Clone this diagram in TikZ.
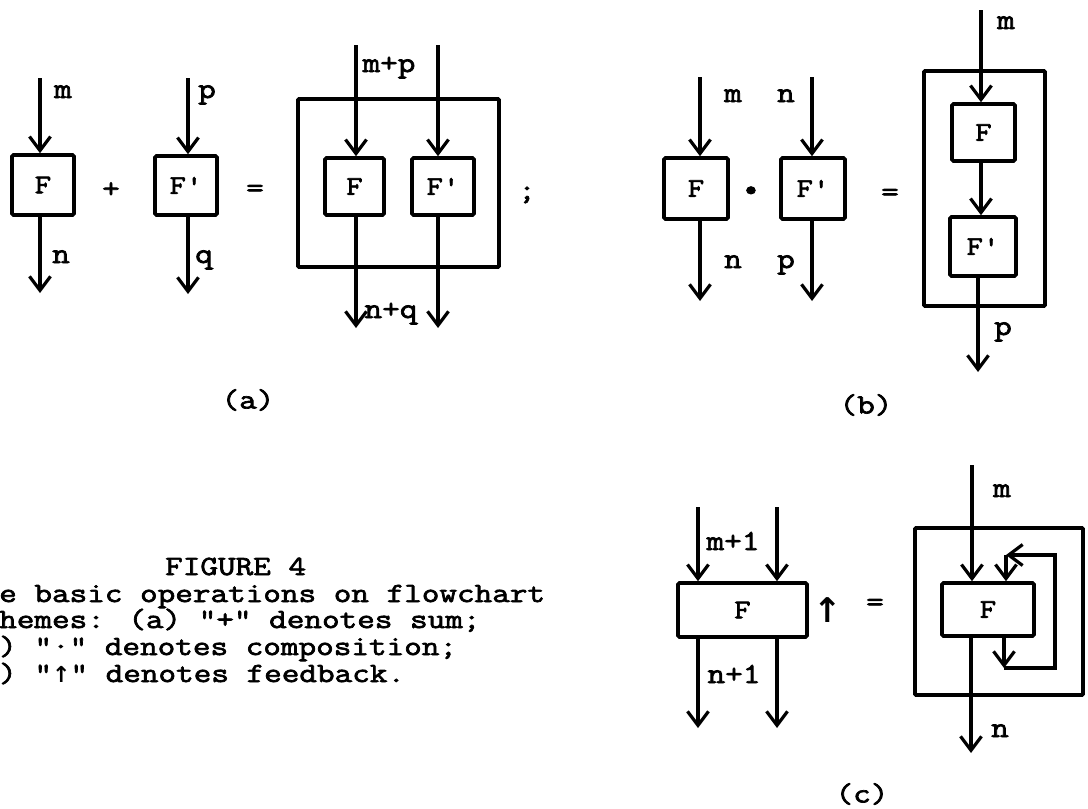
\documentclass[tikz,border=0pt]{standalone}
\usepackage{fontspec}
\newfontfamily\tw{Latin Modern Mono}[FakeBold=2.5, FakeStretch=1.18]
\newfontfamily\twc{Latin Modern Mono}[FakeBold=2.5, FakeStretch=1.23]
\newfontfamily\sym{DejaVu Sans}
\usetikzlibrary{arrows.meta}
\begin{document}
\begin{tikzpicture}[x=1pt,y=-1pt,
  ln/.style={line width=3.2pt},
  arr/.style={ln, -{Straight Barb[length=14pt,width=21pt,line width=3.2pt]}},
  fbox/.style={draw, line width=3.6pt, rounded corners=1.5pt, inner sep=0pt, font=\tw\fontsize{27}{30}\selectfont},
  bigframe/.style={draw, line width=3.6pt, rounded corners=1pt, inner sep=0pt},
  lbl/.style={font=\tw\fontsize{29}{32}\selectfont, inner sep=0pt, anchor=base},
  op/.style={font=\tw\fontsize{29}{32}\selectfont, inner sep=0pt},
  captxt/.style={font=\twc\fontsize{27.8}{30}\selectfont, inner sep=0pt, anchor=base west},
  sublbl/.style={font=\twc\fontsize{27.8}{30}\selectfont, inner sep=0pt},
]
\useasboundingbox (0,0) rectangle (1088,809);

% ---------- (a) ----------
\node[fbox, minimum width=62pt, minimum height=60pt] (aF) at (43,185) {F};
\node[fbox, minimum width=62pt, minimum height=59pt] (aFp) at (186,185.5) {F'};
\node[bigframe, minimum width=201pt, minimum height=168pt] (aBig) at (398.5,183) {};
\node[fbox, minimum width=59pt, minimum height=57pt] (aF2) at (354.5,186.5) {F};
\node[fbox, minimum width=62pt, minimum height=57pt] (aFp2) at (443,186.5) {F'};

\coordinate (aIn1) at (40,78);
\coordinate (aOut1) at (40,293);
\coordinate (aIn2) at (188,78);
\coordinate (aOut2) at (188,294);
\coordinate (aIn3) at (356,45);
\coordinate (aOut3) at (356,328);
\coordinate (aIn4) at (438,45);
\coordinate (aOut4) at (438,328);

\draw[arr] (aIn1) -- (aF.north -| aIn1);
\draw[arr] (aF.south -| aOut1) -- (aOut1);
\draw[arr] (aIn2) -- (aFp.north -| aIn2);
\draw[arr] (aFp.south -| aOut2) -- (aOut2);
\draw[arr] (aIn3) -- (aF2.north -| aIn3);
\draw[arr] (aF2.south -| aOut3) -- (aOut3);
\draw[arr] (aIn4) -- (aFp2.north -| aIn4);
\draw[arr] (aFp2.south -| aOut4) -- (aOut4);

\node[lbl] (am) at (63,98) {m};
\node[lbl] (an) at (61,263) {n};
\node[lbl] (ap) at (207,98) {p};
\node[lbl] (aq) at (204,263) {q};
\node[lbl] (amp) at (389,72) {m+p};
\node[lbl] (anq) at (391,318) {n+q};
\node[op] (aplus) at (111,190) {+};
\node[op] (aeq) at (255,191) {=};
\node[op] (asemi) at (527,195) {;};
\node[sublbl] (alab) at (248,400) {(a)};

% ---------- (b) ----------
\node[fbox, minimum width=64pt, minimum height=61pt] (bF) at (696,188.5) {F};
\node[fbox, minimum width=64pt, minimum height=61pt] (bFp) at (813,188.5) {F'};
\node[bigframe, minimum width=121pt, minimum height=235pt] (bBig) at (984.5,188.5) {};
\node[fbox, minimum width=63pt, minimum height=57pt] (bF2) at (983.5,132.5) {F};
\node[fbox, minimum width=66pt, minimum height=59pt] (bFp2) at (983,246.5) {F'};

\coordinate (bIn1) at (700,77);
\coordinate (bOut1) at (700,301);
\coordinate (bIn2) at (812,77);
\coordinate (bOut2) at (812,301);
\coordinate (bIn3) at (981,10);
\coordinate (bOut3) at (978,372);

\draw[arr] (bIn1) -- (bF.north -| bIn1);
\draw[arr] (bF.south -| bOut1) -- (bOut1);
\draw[arr] (bIn2) -- (bFp.north -| bIn2);
\draw[arr] (bFp.south -| bOut2) -- (bOut2);
\draw[arr] (bIn3) -- (bF2.north -| bIn3);
\draw[arr] (bF2.south -| bIn3) -- (bFp2.north -| bIn3);
\draw[arr] (bFp2.south -| bOut3) -- (bOut3);

\node[lbl] (bm) at (733,102) {m};
\node[lbl] (bn) at (786,102) {n};
\node[lbl] (bn2) at (733,268) {n};
\node[lbl] (bp) at (786,268) {p};
\node[lbl] (bm2) at (1006,29) {m};
\node[lbl] (bp2) at (1003,335) {p};
\node[op] (bdot) at (751,192) {\textbullet};
\node[op] (beq) at (890,195) {=};
\node[sublbl] (blab) at (866,405) {(b)};

% ---------- (c) ----------
\node[fbox, minimum width=129pt, minimum height=54pt] (cF) at (742.5,610) {F};
\node[bigframe, minimum width=168pt, minimum height=167pt] (cBig) at (999,611.5) {};
\node[fbox, minimum width=92pt, minimum height=53pt] (cF2) at (988,609.5) {F};

\coordinate (cIn1) at (698,507);
\coordinate (cOut1) at (698,728);
\coordinate (cIn2) at (777,507);
\coordinate (cOut2) at (777,728);
\coordinate (cIn3) at (972,465);
\coordinate (cOut3) at (971,753);
\coordinate (cL1) at (1004,668);
\coordinate (cL2) at (1055,668);
\coordinate (cL3) at (1055,555);
\coordinate (cL4) at (1006,555);

\draw[arr] (cIn1) -- (cF.north -| cIn1);
\draw[arr] (cF.south -| cOut1) -- (cOut1);
\draw[arr] (cIn2) -- (cF.north -| cIn2);
\draw[arr] (cF.south -| cOut2) -- (cOut2);
\draw[arr] (cIn3) -- (cF2.north -| cIn3);
\draw[arr] (cF2.south -| cOut3) -- (cOut3);
\draw[arr] (cF2.south -| cL1) -- (cL1);
\draw[arr, line join=miter] (cL1) -- (cL2) -- (cL3) -- (cL4);
\draw[arr] (cL4) -- (cF2.north -| cL4);

\node[lbl] (cm1) at (733,550) {m+1};
\node[lbl] (cn1) at (734,683) {n+1};
\node[lbl] (cm) at (1002,497) {m};
\node[lbl] (cn) at (1000,737) {n};
\node[font=\sym\bfseries\fontsize{34}{36}\selectfont, inner sep=0pt] (cup) at (828,610) {↑};
\node[op] (ceq) at (875,605) {=};
\node[sublbl] (clab) at (862,794) {(c)};

% ---------- caption ----------
\node[captxt] (t1) at (165,575) {FIGURE 4};
\node[captxt] (t2) at (-1,602) {e basic operations on flowchart};
\node[captxt] (t3) at (-1,628) {hemes: (a) "+" denotes sum;};
\node[captxt] (t4) at (-1,655) {) "·" denotes composition;};
\node[captxt] (t5) at (-1,682) {) "{\sym\bfseries\fontsize{22}{24}\selectfont ↑}" denotes feedback.};
\end{tikzpicture}
\end{document}
